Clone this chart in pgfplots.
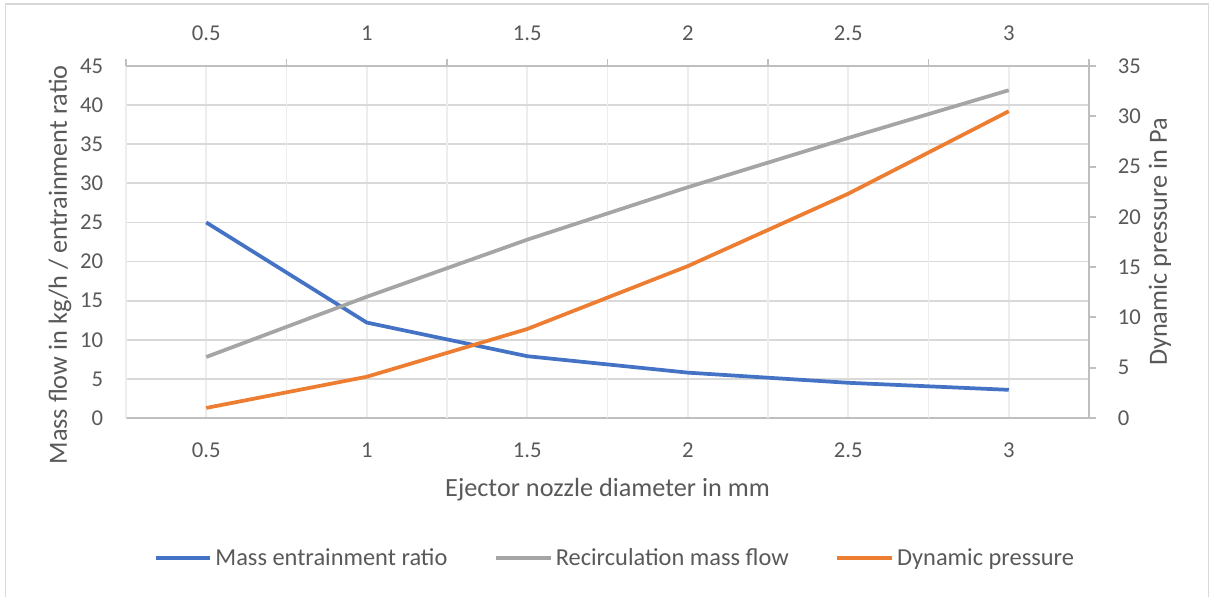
\documentclass[border=0pt]{standalone}
\usepackage{pgfplots}
\pgfplotsset{compat=1.18}
\usepackage{fontspec}
\setmainfont{Carlito}
\definecolor{cblue}{HTML}{4472C4}
\definecolor{corange}{HTML}{ED7D31}
\definecolor{cgray}{HTML}{A5A5A5}
\definecolor{txt}{HTML}{595959}
\definecolor{axl}{HTML}{BFBFBF}
\definecolor{grd}{HTML}{D9D9D9}
\definecolor{grdl}{HTML}{EDEDED}
\newcommand{\tickfont}{\fontsize{17}{20}\selectfont}
\newcommand{\legfont}{\fontsize{18.3}{22}\selectfont}
\newcommand{\titlefont}{\fontsize{19.7}{23}\selectfont}
\begin{document}
\begin{tikzpicture}
\path[use as bounding box] (0pt,0pt) rectangle (906.75pt,447pt);
\draw[grd, line width=1.1pt] (4.1pt,-8pt) rectangle (906.4pt,444pt);
\pgfplotsset{
  every axis/.append style={
    at={(94.5pt,133.5pt)}, anchor=south west,
    width=722.25pt, height=264pt, scale only axis,
    xmin=0.25, xmax=3.25,
    axis line style={axl, line width=1.4pt},
    tick style={axl, line width=1.4pt},
    tick label style={font=\tickfont, text=txt},
    label style={font=\titlefont, text=txt},
    /pgf/number format/assume math mode=true,
  },
}
\begin{axis}[
  axis x line*=bottom, axis y line*=left,
  ymin=0, ymax=45, ytick={0,5,...,45},
  xtick={0.5,1,1.5,2,2.5,3},
  xticklabels={0.5,1,1.5,2,2.5,3},
  major tick length=0pt,
  xmajorgrids, ymajorgrids,
  x grid style={grdl, line width=1.4pt},
  y grid style={grd, line width=1.4pt},
  extra x ticks={0.25,0.75,1.25,1.75,2.25,2.75,3.25},
  extra x tick labels={},
  extra x tick style={grid=major, major grid style={grd, line width=1.4pt}},
  xticklabel style={anchor=center, yshift=-24pt},
  yticklabel style={anchor=east, inner sep=0pt, xshift=-17pt},
  xlabel={Ejector nozzle diameter in mm},
  xlabel style={at={(axis description cs:0.5,-0.2045)}, anchor=center},
  ylabel={Mass flow in kg/h / entrainment ratio},
  ylabel style={at={(axis description cs:-0.0685,0.435)}, anchor=center},
]
\addplot[cblue, line width=2.8pt] coordinates {(0.5,25.0) (1,12.2) (1.5,7.9) (2,5.8) (2.5,4.5) (3,3.6)};
\addplot[cgray, line width=2.8pt] coordinates {(0.5,7.8) (1,15.5) (1.5,22.8) (2,29.5) (2.5,35.8) (3,41.9)};
\end{axis}
\begin{axis}[
  axis x line*=top, axis y line*=right,
  ymin=0, ymax=35, ytick={0,5,...,35},
  xtick={0.25,0.75,1.25,1.75,2.25,2.75,3.25},
  xticklabels={},
  extra x ticks={0.5,1,1.5,2,2.5,3},
  extra x tick labels={0.5,1,1.5,2,2.5,3},
  extra x tick style={major tick length=0pt},
  major tick length=5pt, tick align=outside,
  xticklabel style={anchor=center, yshift=24.75pt},
  yticklabel style={anchor=west, inner sep=0pt, xshift=16.5pt},
  ylabel={Dynamic pressure in Pa},
  ylabel style={at={(axis description cs:1.0737,0.5)}, anchor=center},
  legend columns=3,
  legend style={at={(axis description cs:0.508,-0.398)}, anchor=center, draw=none, fill=none,
    font=\legfont, text=txt,
    /tikz/every odd column/.append style={column sep=0.5pt},
    /tikz/every even column/.append style={column sep=33pt}},
  legend image code/.code={\draw[#1] (0pt,0pt) -- (41pt,0pt);},
]
\addlegendimage{cblue, line width=2.8pt}
\addlegendentry{Mass entrainment ratio}
\addlegendimage{cgray, line width=2.8pt}
\addlegendentry{Recirculation mass flow}
\addplot[corange, line width=2.8pt] coordinates {(0.5,1.0) (1,4.1) (1.5,8.85) (2,15.1) (2.5,22.3) (3,30.5)};
\addlegendentry{Dynamic pressure}
\end{axis}
\end{tikzpicture}
\end{document}
